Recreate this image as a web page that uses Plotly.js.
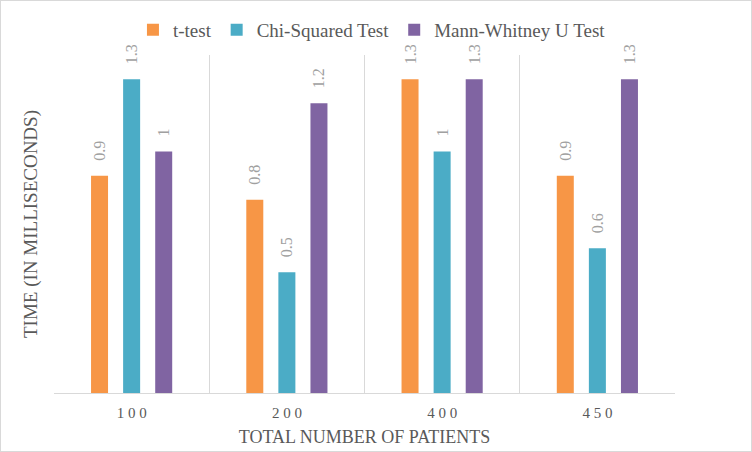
<!DOCTYPE html>
<html><head><meta charset="utf-8">
<script src="https://cdn.plot.ly/plotly-3.0.1.min.js"></script>
<style>html,body{margin:0;padding:0;background:#fff}#c{width:750px;height:450px;border:1px solid #d9d9d9}</style>
</head><body><div id="c"></div>
<script>
const categories = ["100", "200", "400", "450"];
const tTest = [0.9, 0.8, 1.3, 0.9];
const chiSquared = [1.3, 0.5, 1.0, 0.6];
const mannWhitney = [1.0, 1.2, 1.3, 1.3];
const seriesNames = ["t-test", "Chi-Squared Test", "Mann-Whitney U Test"];
const colors = ["#F79646", "#4BACC6", "#8064A2"];
const FONT = "Liberation Serif, DejaVu Serif, serif";

const mk = (name, y, color) => ({
  type: 'bar', name, x: categories, y,
  marker: {color},
  text: y.map(v => '\u00a0\u00a0\u00a0' + String(v)),
  textposition: 'outside', textangle: -90, constraintext: 'none',
  textfont: {family: FONT, size: 16, color: '#a0a0a0'},
  cliponaxis: false, hoverinfo: 'none'
});
const data = [
  mk(seriesNames[0], tTest, colors[0]),
  mk(seriesNames[1], chiSquared, colors[1]),
  mk(seriesNames[2], mannWhitney, colors[2])
];
const layout = {
  width: 750, height: 450,
  margin: {l: 53, r: 76, t: 54, b: 58},
  paper_bgcolor: '#fff', plot_bgcolor: '#fff',
  barmode: 'group', bargap: 0.38, bargroupgap: 0.47,
  showlegend: true,
  legend: {orientation: 'h', x: 0.512, xanchor: 'center', y: 0.936, yanchor: 'middle', yref: 'container',
           bgcolor: 'rgba(0,0,0,0)',
           font: {family: FONT, size: 19, color: '#595959'}, traceorder: 'normal'},
  xaxis: {
    type: 'category', tickson: 'boundaries', showgrid: true, gridcolor: '#d9d9d9', gridwidth: 1,
    showline: true, linecolor: '#d9d9d9', ticks: '', mirror: false,
    tickvals: categories, ticktext: categories.map(c => c.split('').join(' ')),
    tickfont: {family: FONT, size: 15, color: '#595959'}, ticklabelstandoff: 6,
    title: {text: 'TOTAL NUMBER OF PATIENTS', font: {family: FONT, size: 18, color: '#595959'}, standoff: 10}
  },
  yaxis: {
    range: [0, 1.4], showgrid: false, showticklabels: false, zeroline: false, showline: false, ticks: '',
    title: {text: 'TIME (IN MILLISECONDS)', font: {family: FONT, size: 19, color: '#595959'}, standoff: 10}
  }
};
Plotly.newPlot('c', data, layout, {displayModeBar: false, staticPlot: true}).then(() => {});
</script></body></html>
